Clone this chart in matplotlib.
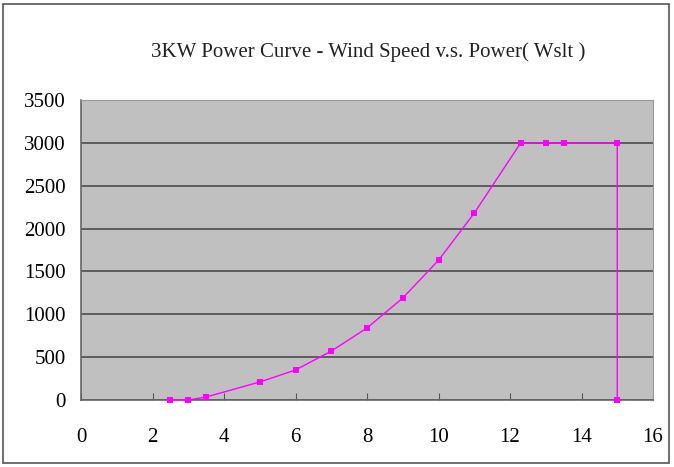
import matplotlib.pyplot as plt
from matplotlib.patches import Rectangle

# wind speed (m/s) and power (W)
speed = [2.5, 3.0, 3.5, 5, 6, 7, 8, 9, 10, 11, 12.3, 13, 13.5, 15, 15]
power = [0, 0, 35, 210, 350, 570, 840, 1190, 1630, 2180, 3000, 3000, 3000, 3000, 0]

xticks = list(range(0, 17, 2))
yticks = list(range(0, 3501, 500))

plt.rcParams['font.family'] = ['Liberation Serif', 'DejaVu Serif']

fig = plt.figure(figsize=(6.74, 4.67), dpi=100)
ax = fig.add_axes([81 / 674, 1 - 400 / 467, 572 / 674, 300 / 467])

# outer chart frame
fig.patches.append(Rectangle((3 / 674, 4 / 467), 666 / 674, 459 / 467,
                             transform=fig.transFigure, fill=False,
                             edgecolor='#555555', linewidth=1.2))

ax.set_facecolor('#c0c0c0')
ax.plot(speed, power, color='#ff00ff', linewidth=1.0, marker='s',
        markersize=4.5, markeredgewidth=0, clip_on=False, zorder=3)

ax.set_xlim(0, 16)
ax.set_ylim(0, 3500)
ax.set_xticks(xticks)
ax.set_yticks(yticks)
ax.grid(axis='y', color='#555555', linewidth=1.3)
ax.set_axisbelow(True)

for side in ['left', 'bottom']:
    ax.spines[side].set_color('#666666')
    ax.spines[side].set_linewidth(1.2)
for side in ['top', 'right']:
    ax.spines[side].set_color('#999999')
    ax.spines[side].set_linewidth(0.8)

ax.tick_params(axis='x', direction='in', length=5, color='#555555',
               labelsize=15, pad=20)
ax.tick_params(axis='y', length=0, labelsize=15, pad=11)

fig.text(368 / 674, 1 - 52 / 467, '3KW Power Curve - Wind Speed v.s. Power( Wslt )',
         ha='center', va='center', fontsize=15, color='#222222')

fig.savefig('out.png', dpi=100, facecolor='white')
